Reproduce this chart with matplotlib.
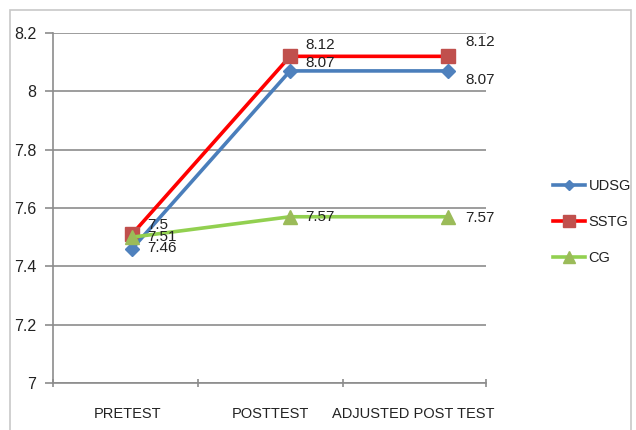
import matplotlib.pyplot as plt
from matplotlib.patches import Rectangle
from matplotlib.ticker import FixedLocator, NullFormatter

# Mean scores for each group across the three test stages
stages = ['PRETEST', 'POSTTEST', 'ADJUSTED POST TEST']
udsg = [7.46, 8.07, 8.07]
sstg = [7.51, 8.12, 8.12]
cg = [7.5, 7.57, 7.57]

plt.rcParams['font.family'] = ['Liberation Sans', 'DejaVu Sans']

fig = plt.figure(figsize=(6.36, 4.3), dpi=100)
ax = fig.add_axes([53 / 636, 47 / 430, 433 / 636, 350 / 430])

# light outer chart frame
fig.patches.append(Rectangle((10 / 636, -0.05), 621 / 636, 1.05 - 10 / 430,
                             transform=fig.transFigure, fill=False,
                             edgecolor='#c8c8c8', linewidth=1.2))

x = [0, 1, 2]
ax.plot(x, udsg, color='#4a7ebb', lw=2.6, marker='D', ms=7,
        mfc='#4f81bd', mec='#4f81bd', label='UDSG', zorder=4)
ax.plot(x, sstg, color='#ff0000', lw=2.6, marker='s', ms=10,
        mfc='#c0504d', mec='#c0504d', label='SSTG', zorder=3)
ax.plot(x, cg, color='#92d050', lw=2.6, marker='^', ms=10,
        mfc='#9bbb59', mec='#9bbb59', label='CG', zorder=5)

# value labels, offsets in pixels from each point
label_offsets = {
    'udsg': [(15, 1), (15, 8), (17, -9)],
    'sstg': [(15, -3), (15, 11), (17, 14)],
    'cg': [(15, 12), (15, 0), (17, -1)],
}
for name, vals in (('udsg', udsg), ('sstg', sstg), ('cg', cg)):
    for xi, v, (dx, dy) in zip(x, vals, label_offsets[name]):
        ax.annotate(f'{v:g}', (xi, v), xytext=(dx, dy), textcoords='offset pixels',
                    ha='left', va='center', fontsize=11, color='#222222', zorder=6)

ax.set_xlim(-0.5, 2.24)
ax.set_ylim(7, 8.2)
ax.set_yticks([7, 7.2, 7.4, 7.6, 7.8, 8, 8.2])
ax.set_yticklabels(['7', '7.2', '7.4', '7.6', '7.8', '8', '8.2'])
ax.yaxis.grid(True, color='#8c8c8c', lw=1.2)
ax.set_axisbelow(True)

# category labels centred under each stage, separators as minor ticks
ax.set_xticks([-0.03, 0.873, 1.778])
ax.set_xticklabels(stages)
ax.xaxis.set_minor_locator(FixedLocator([-0.5, 0.418, 1.335, 2.24]))
ax.xaxis.set_minor_formatter(NullFormatter())
ax.tick_params(axis='x', which='major', length=0, pad=17, labelsize=10.5, labelcolor='#222222')
ax.tick_params(axis='x', which='minor', length=6, direction='inout', color='#8c8c8c', width=1.2)
ax.tick_params(axis='y', length=6, color='#8c8c8c', width=1.2, pad=6,
               labelsize=11.5, labelcolor='#222222')

for side in ('top', 'right'):
    ax.spines[side].set_visible(False)
for side in ('left', 'bottom'):
    ax.spines[side].set_color('#8c8c8c')
    ax.spines[side].set_linewidth(1.2)

handles, names = ax.get_legend_handles_labels()
leg = fig.legend(handles, names, loc='center left',
                 bbox_to_anchor=(553 / 636, 1 - 222 / 430), bbox_transform=fig.transFigure,
                 frameon=False, fontsize=10.5, labelspacing=1.5, handlelength=2.2,
                 handletextpad=0.25, borderpad=0, borderaxespad=0, markerscale=0.8,
                 labelcolor='#222222')

fig.savefig('out.png', dpi=100)
